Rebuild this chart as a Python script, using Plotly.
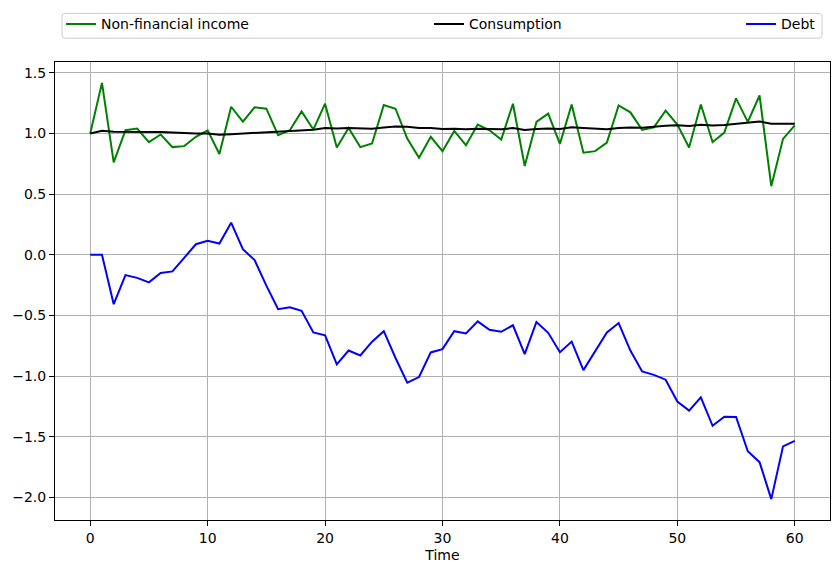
import plotly.graph_objects as go

time = list(range(61))

income = [1.00, 1.418, 0.762, 1.027, 1.041, 0.929, 0.992, 0.888, 0.896, 0.973,
          1.027, 0.831, 1.221, 1.098, 1.216, 1.205, 0.986, 1.027, 1.183, 1.033,
          1.246, 0.885, 1.046, 0.888, 0.918, 1.235, 1.205, 0.959, 0.800, 0.973,
          0.855, 1.022, 0.904, 1.074, 1.027, 0.951, 1.246, 0.732, 1.096, 1.164,
          0.915, 1.240, 0.842, 0.855, 0.926, 1.232, 1.175, 1.030, 1.052, 1.189,
          1.074, 0.885, 1.240, 0.929, 1.008, 1.290, 1.096, 1.314, 0.566, 0.956,
          1.068]

consumption = [1.000, 1.023, 1.015, 1.015, 1.016, 1.013, 1.012, 1.008, 1.003, 1.000,
               1.000, 0.990, 0.995, 1.000, 1.008, 1.015, 1.020, 1.022, 1.030, 1.032,
               1.046, 1.042, 1.046, 1.042, 1.040, 1.050, 1.058, 1.055, 1.045, 1.045,
               1.038, 1.040, 1.035, 1.040, 1.038, 1.035, 1.045, 1.030, 1.038, 1.042,
               1.038, 1.052, 1.045, 1.038, 1.035, 1.045, 1.050, 1.048, 1.058, 1.065,
               1.068, 1.062, 1.072, 1.066, 1.070, 1.080, 1.085, 1.100, 1.080, 1.078,
               1.080]

debt = [0.000, 0.000, -0.407, -0.167, -0.190, -0.227, -0.150, -0.137, -0.025, 0.087,
        0.115, 0.093, 0.265, 0.046, -0.044, -0.254, -0.448, -0.432, -0.462, -0.640,
        -0.664, -0.903, -0.789, -0.830, -0.716, -0.630, -0.851, -1.054, -1.008, -0.805,
        -0.778, -0.630, -0.649, -0.549, -0.619, -0.635, -0.581, -0.819, -0.554, -0.643,
        -0.803, -0.716, -0.951, -0.793, -0.641, -0.563, -0.790, -0.962, -0.990, -1.030,
        -1.210, -1.285, -1.175, -1.410, -1.335, -1.337, -1.620, -1.710, -2.015, -1.580,
        -1.535]

series_names = ["Non-financial income", "Consumption", "Debt"]
series_colors = ["green", "black", "blue"]
series_values = [income, consumption, debt]
legend_ids = ["legend", "legend2", "legend3"]

fig = go.Figure()
for name, color, vals, lg in zip(series_names, series_colors, series_values, legend_ids):
    fig.add_trace(go.Scatter(x=time, y=vals, mode="lines", name=name,
                             line=dict(color=color, width=2), legend=lg))

W, H = 838, 574
ml, mr, mt, mb = 55, 8, 58, 54
pw, ph = W - ml - mr, H - mt - mb

def px_x(px):
    return (px - ml) / pw

def px_y(py):
    return (H - mb - py) / ph

legend_common = dict(orientation="h", bgcolor="rgba(0,0,0,0)", borderwidth=0,
                     font=dict(family="DejaVu Sans", size=14, color="black"),
                     xanchor="left", yanchor="middle", y=px_y(20))

# legend frame
x0, x1 = px_x(62), px_x(822)
y0, y1 = px_y(34), px_y(9)
rx, ry = 3 / pw, 3 / ph
path = (f"M{x0+rx},{y0} L{x1-rx},{y0} Q{x1},{y0} {x1},{y0+ry} L{x1},{y1-ry} "
        f"Q{x1},{y1} {x1-rx},{y1} L{x0+rx},{y1} Q{x0},{y1} {x0},{y1-ry} "
        f"L{x0},{y0+ry} Q{x0},{y0} {x0+rx},{y0} Z")

fig.update_layout(
    width=W, height=H,
    margin=dict(l=ml, r=mr, t=mt, b=mb),
    paper_bgcolor="white", plot_bgcolor="white",
    font=dict(family="DejaVu Sans", size=14, color="black"),
    showlegend=True,
    legend=dict(x=px_x(61), **legend_common),
    legend2=dict(x=px_x(429), **legend_common),
    legend3=dict(x=px_x(741), **legend_common),
    shapes=[dict(type="path", xref="paper", yref="paper", path=path,
                 line=dict(color="#cccccc", width=1), fillcolor="rgba(255,255,255,0.8)",
                 layer="below")],
    xaxis=dict(range=[-3, 63], tickmode="linear", tick0=0, dtick=10,
               showgrid=True, gridcolor="#b0b0b0", gridwidth=1, zeroline=False,
               showline=True, linecolor="black", linewidth=1, mirror=True,
               ticks="outside", ticklen=5, tickcolor="black",
               title=dict(text="Time", font=dict(size=14), standoff=5)),
    yaxis=dict(range=[-2.187, 1.59], tickmode="linear", tick0=0, dtick=0.5,
               tickformat=".1f",
               showgrid=True, gridcolor="#b0b0b0", gridwidth=1, zeroline=False,
               showline=True, linecolor="black", linewidth=1, mirror=True,
               ticks="outside", ticklen=5, tickcolor="black"),
)

fig.write_html("out.html")
